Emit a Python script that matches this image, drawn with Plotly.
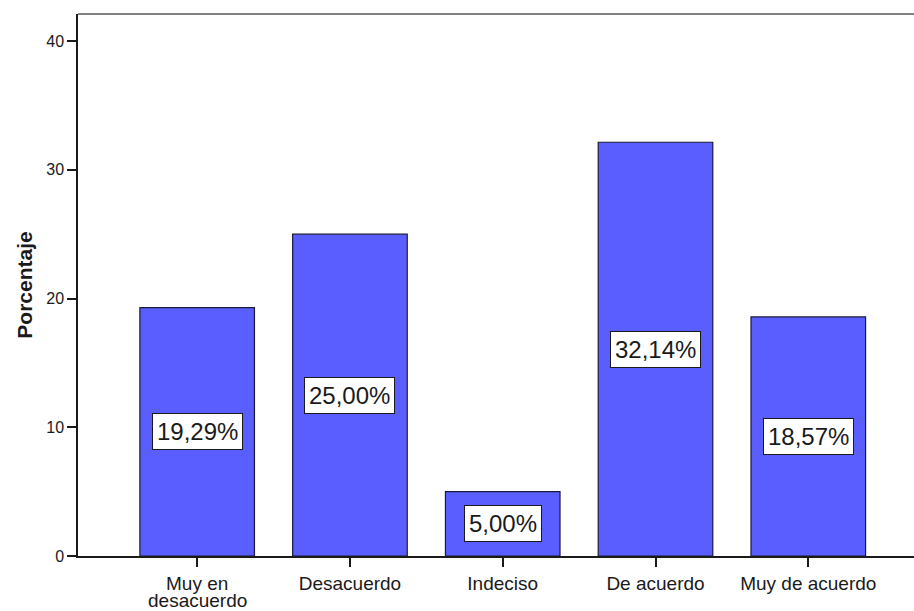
import plotly.graph_objects as go

categories = ["Muy en desacuerdo", "Desacuerdo", "Indeciso", "De acuerdo", "Muy de acuerdo"]
tick_line1 = ["Muy en", "Desacuerdo", "Indeciso", "De acuerdo", "Muy de acuerdo"]
tick_line2 = ["desacuerdo", "", "", "", ""]
percentages = [19.29, 25.00, 5.00, 32.14, 18.57]
value_labels = ["19,29%", "25,00%", "5,00%", "32,14%", "18,57%"]
y_ticks = [0, 10, 20, 30, 40]

FONT = "Liberation Sans, Arial, sans-serif"
INK = "#1a1a1a"

fig = go.Figure()
fig.add_trace(go.Bar(
    x=categories,
    y=percentages,
    width=0.75,
    marker=dict(color="#5a5eff", line=dict(color="#1a1a3a", width=1.2)),
    hoverinfo="skip",
))

for c, v, lab in zip(categories, percentages, value_labels):
    fig.add_annotation(
        x=c, y=v / 2, text=lab, showarrow=False,
        font=dict(family=FONT, size=24, color=INK),
        bgcolor="white", bordercolor=INK, borderwidth=1, borderpad=4,
    )

# second line of wrapped category labels
for c, t in zip(categories, tick_line2):
    if t:
        fig.add_annotation(
            x=c, xref="x", y=0, yref="paper", yanchor="top", yshift=-32,
            text=t, showarrow=False,
            font=dict(family=FONT, size=19, color=INK),
        )

# top frame line
fig.add_shape(type="line", xref="paper", yref="paper", x0=0, x1=1, y0=1, y1=1,
              line=dict(color="#808080", width=2))

fig.update_layout(
    width=914, height=611,
    margin=dict(l=78, r=0, t=14, b=55),
    paper_bgcolor="white", plot_bgcolor="white",
    showlegend=False,
    font=dict(family=FONT, color=INK),
    xaxis=dict(
        type="category", range=[-0.78, 4.692], automargin=False,
        tickvals=categories, ticktext=tick_line1,
        showline=True, linecolor=INK, linewidth=1.5,
        ticks="outside", ticklen=9, tickcolor=INK, tickwidth=1.5,
        tickfont=dict(family=FONT, size=19, color=INK),
        showgrid=False, zeroline=False,
    ),
    yaxis=dict(
        range=[0, 42.1], automargin=False,
        tickvals=y_ticks, ticktext=[str(t) for t in y_ticks],
        showline=True, linecolor=INK, linewidth=1.5,
        ticks="outside", ticklen=9, tickcolor=INK, tickwidth=1.5,
        tickfont=dict(family=FONT, size=16, color=INK),
        showgrid=False, zeroline=False,
        title=dict(text="<b>Porcentaje</b>", font=dict(family=FONT, size=21, color=INK), standoff=8),
    ),
)

fig.write_html(
    "out.html",
    config={"displayModeBar": False},
    post_script="document.body.style.margin='0';document.body.style.overflow='hidden';",
)
